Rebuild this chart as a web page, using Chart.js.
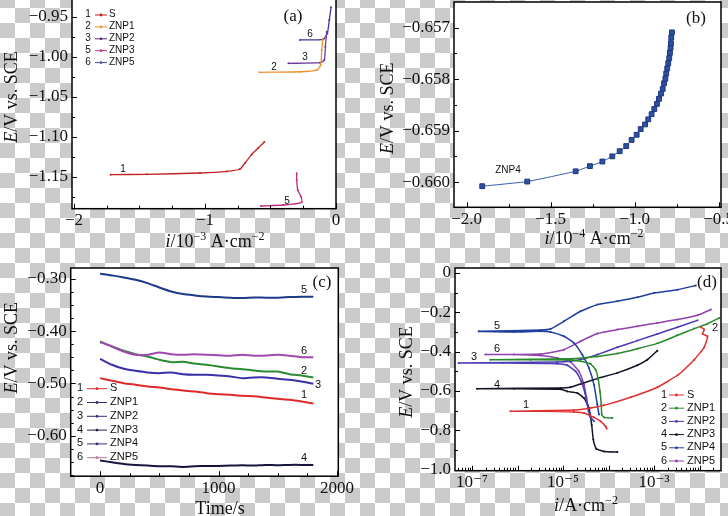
<!DOCTYPE html>
<html><head><meta charset="utf-8">
<script src="https://cdn.jsdelivr.net/npm/chart.js@4.4.1/dist/chart.umd.min.js"></script>
<style>
html,body{margin:0;padding:0;width:728px;height:516px;overflow:hidden;}
body{position:relative;background-color:#fff;
background-image:conic-gradient(#cbcbcb 25%,transparent 0 50%,#cbcbcb 0 75%,transparent 0);
background-size:30px 30px;background-position:0px 8px;}
.pn{position:absolute;}
canvas{display:block;}
</style></head><body>
<div class="pn" id="wa"><canvas id="ca"></canvas></div>
<div class="pn" id="wb"><canvas id="cb"></canvas></div>
<div class="pn" id="wc"><canvas id="cc"></canvas></div>
<div class="pn" id="wd"><canvas id="cd"></canvas></div>
<script>
// ---------------- Panel (a): i / 10^-3 A cm^-2  vs  E / V ----------------
const aS_i    = [-1.72,-1.445,-1.038,-0.834,-0.733,-0.695,-0.644,-0.593,-0.547];
const aS_E    = [-1.1475,-1.147,-1.1454,-1.1434,-1.1404,-1.133,-1.1225,-1.114,-1.1066];
const aZNP1_i = [-0.585,-0.275,-0.147,-0.117,-0.109,-0.101];
const aZNP1_E = [-1.0195,-1.0188,-1.0167,-1.0104,-0.9916,-0.9783];
const aZNP2_i = [-0.363,-0.122,-0.089,-0.081,-0.071];
const aZNP2_E = [-1.0083,-1.0075,-1.0041,-0.9875,-0.9688];
const aZNP3_i = [-0.573,-0.402,-0.262,-0.267,-0.292,-0.300,-0.300];
const aZNP3_E = [-1.1866,-1.1854,-1.182,-1.175,-1.1666,-1.154,-1.1458];
const aZNP5_i = [-0.275,-0.097,-0.066,-0.051,-0.038];
const aZNP5_E = [-0.9791,-0.9783,-0.9708,-0.9541,-0.9383];
const aXTicks = [-2,-1,0];            const aXLabels = ['\u22122','\u22121','0'];
const aYTicks = [-0.95,-1.00,-1.05,-1.10,-1.15];
const aYLabels = ['\u22120.95','\u22121.00','\u22121.05','\u22121.10','\u22121.15'];
const aXMinor = [-1.75,-1.5,-1.25,-0.75,-0.5,-0.25];
const aYMinor = [-0.975,-1.025,-1.075,-1.125,-1.175];

// ---------------- Panel (b): ZNP4, i / 10^-4 A cm^-2 vs E / V ----------------
const bZNP4_i = [-1.907,-1.639,-1.351,-1.266,-1.192,-1.133,-1.089,-1.050,-1.018,-0.988,-0.964,-0.938,-0.919,-0.899,-0.883,-0.867,-0.855,-0.843,-0.833,-0.825,-0.817,-0.812,-0.806,-0.800,-0.794,-0.790,-0.786,-0.784,-0.782,-0.778];
const bZNP4_E = [-0.66008,-0.65999,-0.65979,-0.65969,-0.65960,-0.65950,-0.65940,-0.65930,-0.65918,-0.65908,-0.65897,-0.65888,-0.65878,-0.65868,-0.65858,-0.65848,-0.65838,-0.65828,-0.65819,-0.65808,-0.65799,-0.65789,-0.65779,-0.65769,-0.65759,-0.65749,-0.65739,-0.65730,-0.65719,-0.65709];
const bXTicks = [-2.0,-1.5,-1.0,-0.5]; const bXLabels = ['\u22122.0','\u22121.5','\u22121.0','\u22120.5'];
const bYTicks = [-0.657,-0.658,-0.659,-0.660];
const bYLabels = ['\u22120.657','\u22120.658','\u22120.659','\u22120.660'];
const bXMinor = [-1.75,-1.25,-0.75];
const bYMinor = [-0.6575,-0.6585,-0.6595];

// ---------------- Panel (c): Time / s vs E / V ----------------
const cTime = [0,100,200,300,400,500,600,700,800,900,1000,1100,1200,1300,1400,1500,1600,1700,1800];
const cS    = [-0.4898,-0.4949,-0.4994,-0.5025,-0.5057,-0.5076,-0.5108,-0.5134,-0.5153,-0.5185,-0.5204,-0.5217,-0.5236,-0.5242,-0.5268,-0.5293,-0.5312,-0.5344,-0.5382];
const cZNP1 = [-0.4197,-0.4293,-0.4376,-0.444,-0.4484,-0.4548,-0.4592,-0.4586,-0.4618,-0.4643,-0.4675,-0.4707,-0.4726,-0.4752,-0.4771,-0.4771,-0.4822,-0.4847,-0.4885];
const cZNP2 = [-0.4529,-0.4643,-0.472,-0.4758,-0.479,-0.4803,-0.479,-0.4822,-0.4834,-0.4834,-0.4847,-0.4866,-0.4898,-0.4885,-0.4885,-0.4911,-0.493,-0.4962,-0.5006];
const cZNP3 = [-0.6471,-0.6503,-0.6535,-0.6554,-0.6567,-0.658,-0.658,-0.6592,-0.658,-0.6573,-0.6573,-0.6567,-0.6561,-0.6567,-0.6554,-0.6561,-0.6554,-0.6554,-0.6554];
const cZNP4 = [-0.2904,-0.2936,-0.2975,-0.3019,-0.3083,-0.3166,-0.3242,-0.3293,-0.3318,-0.3338,-0.335,-0.3363,-0.3369,-0.3357,-0.3363,-0.3363,-0.335,-0.3344,-0.3344];
const cZNP5 = [-0.421,-0.4293,-0.4389,-0.4452,-0.4452,-0.4408,-0.444,-0.4452,-0.444,-0.4452,-0.4459,-0.4471,-0.4452,-0.4471,-0.4465,-0.4452,-0.4471,-0.4497,-0.4497];
const cXTicks = [0,1000,2000]; const cXLabels = ['0','1000','2000'];
const cYTicks = [-0.30,-0.40,-0.50,-0.60]; const cYLabels = ['\u22120.30','\u22120.40','\u22120.50','\u22120.60'];
const cXMinor = [250,500,750,1250,1500,1750];
const cYMinor = [-0.325,-0.35,-0.375,-0.425,-0.45,-0.475,-0.525,-0.55,-0.575,-0.625,-0.65,-0.675];

// ---------------- Panel (d): Tafel, i / A cm^-2 (log) vs E / V ----------------
const dS_i    = [9.08e-5,8.63e-5,6.7e-5,4.78e-5,2.88e-5,1.73e-5,3.79e-6,6.98e-7,1.73e-5,4.04e-5,7.92e-5,3.06e-4,1.18e-3,3.27e-3,7.6e-3,1.26e-2,1.49e-2,1.16e-2,1.26e-2,1.07e-2];
const dS_E    = [-0.792,-0.78,-0.754,-0.734,-0.712,-0.707,-0.703,-0.703,-0.697,-0.686,-0.673,-0.632,-0.581,-0.52,-0.441,-0.378,-0.322,-0.31,-0.288,-0.276];
const dZNP1_i = [1.21e-4,7.92e-5,7.08e-5,6.92e-5,6.47e-5,5.85e-5,5.2e-5,4.04e-5,2.43e-5,1.46e-5,1.92e-6,2.54e-7,1.46e-5,5.65e-5,1.56e-4,4.3e-4,1.18e-3,3.27e-3,7.6e-3,1.49e-2,2.7e-2];
const dZNP1_E = [-0.737,-0.734,-0.72,-0.669,-0.602,-0.534,-0.492,-0.463,-0.449,-0.442,-0.441,-0.441,-0.436,-0.425,-0.41,-0.385,-0.358,-0.317,-0.283,-0.258,-0.229];
const dZNP2_i = [4.78e-5,3.9e-5,3.41e-5,3.03e-5,2.51e-5,1.88e-5,1.24e-5,7.45e-6,4.98e-7,5.08e-8,7.45e-6,1.46e-5,2.88e-5,5.65e-5,1.56e-4,4.3e-4,1.18e-3,3.27e-3,9e-3];
const dZNP2_E = [-0.754,-0.729,-0.669,-0.61,-0.551,-0.5,-0.469,-0.461,-0.458,-0.458,-0.453,-0.449,-0.436,-0.415,-0.378,-0.344,-0.31,-0.276,-0.241];
const dZNP3_i = [1.56e-4,7.92e-5,5.37e-5,4.62e-5,4.25e-5,3.71e-5,2.88e-5,2.05e-5,1.24e-5,8.8e-6,8.3e-7,1.29e-7,8.8e-6,1.46e-5,2.43e-5,5.65e-5,1.56e-4,4.3e-4,7.13e-4,1.18e-3];
const dZNP3_E = [-0.91,-0.907,-0.893,-0.847,-0.771,-0.686,-0.636,-0.61,-0.602,-0.591,-0.588,-0.588,-0.585,-0.581,-0.564,-0.537,-0.508,-0.469,-0.441,-0.395];
const dZNP4_i = [6.15e-5,5.65e-5,4.78e-5,3.71e-5,2.64e-5,1.73e-5,1.04e-5,5.3e-6,3.2e-6,8.3e-7,1.4e-7,3.2e-6,5.3e-6,1.04e-5,2.43e-5,5.65e-5,1.56e-4,4.3e-4,1e-3,3.27e-3,8.26e-3];
const dZNP4_E = [-0.72,-0.669,-0.568,-0.483,-0.415,-0.356,-0.322,-0.30,-0.297,-0.300,-0.297,-0.29,-0.285,-0.246,-0.195,-0.161,-0.144,-0.124,-0.102,-0.085,-0.064];
const dZNP5_i = [3.64e-5,3.29e-5,2.88e-5,2.23e-5,1.46e-5,7.45e-6,3.2e-6,8.3e-7,1.97e-7,3.2e-6,1.04e-5,2.43e-5,5.65e-5,1.56e-4,4.3e-4,1.18e-3,3.27e-3,9e-3,1.77e-2];
const dZNP5_E = [-0.703,-0.636,-0.568,-0.5,-0.453,-0.432,-0.42,-0.415,-0.415,-0.412,-0.39,-0.347,-0.308,-0.288,-0.271,-0.254,-0.237,-0.215,-0.186];
const dXTicks = [1e-7,1e-5,1e-3]; const dXLabels = ['10\u207B\u2077','10\u207B\u2075','10\u207B\u00B3'];
const dYTicks = [0,-0.2,-0.4,-0.6,-0.8,-1.0];
const dYLabels = ['0','\u22120.2','\u22120.4','\u22120.6','\u22120.8','\u22121.0'];
const dXMajor = [1e-7,1e-6,1e-5,1e-4,1e-3,1e-2];
const dXMinor = [];
[-8,-7,-6,-5,-4,-3,-2].forEach(e=>{for(let k=2;k<=9;k++) dXMinor.push(k*Math.pow(10,e));});
const dYMinor = [-0.1,-0.3,-0.5,-0.7,-0.9];

// ---------------- helpers ----------------
const SERIF = '"Liberation Serif","DejaVu Serif",serif';
const SANS = '"Liberation Sans","DejaVu Sans",Arial,sans-serif';
const pts = (xs, ys) => xs.map((x, i) => ({x: x, y: ys[i]}));

function drawRich(ctx, segs, cx, cy, size, rot) {
  ctx.save();
  ctx.translate(cx, cy);
  if (rot) ctx.rotate(-Math.PI / 2);
  const fontOf = s => (s.it ? 'italic ' : '') + (s.sup ? Math.round(size * 0.66) : size) + 'px ' + SERIF;
  let w = 0;
  segs.forEach(s => { ctx.font = fontOf(s); s.w = ctx.measureText(s.t).width; w += s.w; });
  let x = -w / 2;
  ctx.fillStyle = '#111'; ctx.textBaseline = 'alphabetic'; ctx.textAlign = 'left';
  segs.forEach(s => { ctx.font = fontOf(s); ctx.fillText(s.t, x, size * 0.34 - (s.sup ? size * 0.42 : 0)); x += s.w; });
  ctx.restore();
}

function decor(cfg) {
  return {
    id: 'decor_' + cfg.name,
    beforeDraw(chart) {
      const a = chart.chartArea, c = chart.ctx;
      c.save(); c.fillStyle = '#fff'; c.fillRect(a.left, a.top, a.right - a.left, a.bottom - a.top); c.restore();
    },
    afterDraw(chart) {
      const c = chart.ctx, a = chart.chartArea, X = chart.scales.x, Y = chart.scales.y;
      const ox = cfg.offset[0], oy = cfg.offset[1];
      c.save();
      c.strokeStyle = '#000'; c.lineWidth = 1;
      const inX = v => v >= Math.min(X.min, X.max) && v <= Math.max(X.min, X.max);
      const inY = v => v >= Math.min(Y.min, Y.max) && v <= Math.max(Y.min, Y.max);
      c.beginPath();
      const tx = (vals, len) => vals.filter(inX).forEach(v => { const p = Math.round(X.getPixelForValue(v)) + 0.5; c.moveTo(p, a.bottom); c.lineTo(p, a.bottom - len); });
      const ty = (vals, len) => vals.filter(inY).forEach(v => { const p = Math.round(Y.getPixelForValue(v)) + 0.5; c.moveTo(a.left, p); c.lineTo(a.left + len, p); });
      tx(cfg.xMajor, 5); tx(cfg.xMinor, 3); ty(cfg.yMajor, 5); ty(cfg.yMinor, 3);
      c.stroke();
      c.lineWidth = 1.5;
      c.strokeRect(a.left, a.top, a.right - a.left, a.bottom - a.top);
      cfg.titles.forEach(t => drawRich(c, t.segs, t.x - ox, t.y - oy, t.size, t.rot));
      cfg.texts.forEach(t => {
        c.font = t.font; c.fillStyle = t.color || '#111'; c.textAlign = 'center'; c.textBaseline = 'middle';
        c.fillText(t.t, t.x - ox, t.y - oy);
      });
      if (cfg.legend) {
        const L = cfg.legend;
        L.items.forEach((it, k) => {
          const y = L.y + k * L.dy - oy;
          c.font = L.font; c.fillStyle = '#111'; c.textBaseline = 'middle';
          c.textAlign = 'center'; c.fillText(it[0], L.nx - ox, y);
          c.strokeStyle = it[1]; c.lineWidth = 1;
          c.beginPath(); c.moveTo(L.l0 - ox, y + 0.5); c.lineTo(L.l1 - ox, y + 0.5); c.stroke();
          c.fillStyle = it[1]; c.beginPath(); c.arc((L.l0 + L.l1) / 2 - ox, y + 0.5, 1.4, 0, Math.PI * 2); c.fill();
          c.fillStyle = '#111'; c.textAlign = 'left'; c.fillText(it[2], L.tx - ox, y);
        });
      }
      c.restore();
    }
  };
}

// canvas extends 20px above and 30px right of the plot so that the library's own
// label padding never moves the plot area
function mkChart(id, wrap, cfg) {
  const P = cfg.plot;
  const off = [cfg.left, P[1] - 20];
  const W = P[2] + 30 - off[0], H = cfg.bottom - off[1];
  cfg.offset = off;
  const w = document.getElementById(wrap);
  w.style.left = off[0] + 'px'; w.style.top = off[1] + 'px';
  w.style.width = W + 'px'; w.style.height = H + 'px';
  const el = document.getElementById(id);
  el.width = Math.round(W); el.height = Math.round(H); el.style.width = Math.round(W) + 'px'; el.style.height = Math.round(H) + 'px';
  const yW = P[0] - off[0];
  const xH = off[1] + Math.round(H) - P[3];
  const tickFont = {family: SERIF, size: 17};
  return new Chart(el, {
    type: 'scatter',
    data: {datasets: cfg.datasets},
    options: {
      responsive: false, animation: false, events: [],
      layout: {autoPadding: false, padding: {top: 20, right: Math.round(W) - (P[2] - off[0]), left: 0, bottom: 0}},
      plugins: {legend: {display: false}, tooltip: {enabled: false}},
      scales: {
        x: {type: cfg.xType || 'linear', min: cfg.xMin, max: cfg.xMax, position: 'bottom',
            grid: {display: false, drawTicks: false}, border: {display: false},
            afterFit: s => { s.height = xH; },
            afterBuildTicks: s => { s.ticks = cfg.xTicks.map(v => ({value: v})); },
            ticks: {autoSkip: false, maxRotation: 0, minRotation: 0, padding: cfg.xPad, color: '#111', font: tickFont,
                    callback: (v, i) => cfg.xLabels[i]}},
        y: {type: 'linear', min: cfg.yMin, max: cfg.yMax, position: 'left',
            grid: {display: false, drawTicks: false}, border: {display: false},
            afterFit: s => { s.width = yW; },
            afterBuildTicks: s => { s.ticks = cfg.yTicks.map(v => ({value: v})); },
            ticks: {autoSkip: false, padding: cfg.yPad, color: '#111', font: tickFont,
                    callback: (v, i) => cfg.yLabels[i]}}
      }
    },
    plugins: [decor(cfg)]
  });
}

function ds(xs, ys, color, opt) {
  return Object.assign({data: pts(xs, ys), showLine: true, borderColor: color, backgroundColor: color,
    borderWidth: 1.3, pointRadius: 1, pointBorderWidth: 0, tension: 0.2}, opt || {});
}

const yTitle = [{t: 'E', it: true}, {t: '/V vs. SCE'}];

// ---------- (a) ----------
mkChart('ca', 'wa', {
  name: 'a', left: 0, bottom: 258, plot: [72, -1, 336, 208.7],
  xMin: -2.015, xMax: 0, yMin: -1.19, yMax: -0.9279,
  xTicks: aXTicks, xLabels: aXLabels, yTicks: aYTicks, yLabels: aYLabels,
  xMajor: aXTicks, xMinor: aXMinor, yMajor: aYTicks, yMinor: aYMinor, xPad: 2, yPad: 4,
  datasets: [
    ds(aS_i, aS_E, '#c42222'),
    ds(aZNP1_i, aZNP1_E, '#f0902e'),
    ds(aZNP2_i, aZNP2_E, '#6a3a9a'),
    ds(aZNP3_i, aZNP3_E, '#c0307a'),
    ds(aZNP5_i, aZNP5_E, '#3a3a9a')
  ],
  titles: [
    {segs: yTitle, x: 11, y: 97, size: 18, rot: true},
    {segs: [{t: 'i', it: true}, {t: '/10'}, {t: '\u22123', sup: true}, {t: ' A\u00B7cm'}, {t: '\u22122', sup: true}], x: 215, y: 241, size: 18}
  ],
  texts: [
    {t: '(a)', x: 293, y: 17, font: '17px ' + SERIF},
    {t: '1', x: 123, y: 169, font: '10px ' + SANS},
    {t: '2', x: 274, y: 67, font: '10px ' + SANS},
    {t: '3', x: 305, y: 57, font: '10px ' + SANS},
    {t: '5', x: 287, y: 201, font: '10px ' + SANS},
    {t: '6', x: 310, y: 34, font: '10px ' + SANS}
  ],
  legend: {nx: 88, l0: 95, l1: 107, tx: 109, y: 14.5, dy: 11.9, font: '10px ' + SANS,
    items: [['1', '#c42222', 'S'], ['2', '#f0902e', 'ZNP1'], ['3', '#5a2a7a', 'ZNP2'], ['5', '#c23a8a', 'ZNP3'], ['6', '#4a4aa8', 'ZNP5']]}
});

// ---------- (b) ----------
mkChart('cb', 'wb', {
  name: 'b', left: 364, bottom: 258, plot: [454, 1.7, 721, 207],
  xMin: -2.075, xMax: -0.486, yMin: -0.66049, yMax: -0.65650,
  xTicks: bXTicks, xLabels: bXLabels, yTicks: bYTicks, yLabels: bYLabels,
  xMajor: bXTicks, xMinor: bXMinor, yMajor: bYTicks, yMinor: bYMinor, xPad: 2, yPad: 4,
  datasets: [
    ds(bZNP4_i, bZNP4_E, '#2b4c9c', {pointStyle: 'rect', pointRadius: 3.4, pointBorderWidth: 1,
      pointBorderColor: '#1d3680', pointBackgroundColor: '#2e50a0', borderColor: '#3a5aaa', borderWidth: 1, tension: 0.1})
  ],
  titles: [
    {segs: yTitle, x: 387, y: 108, size: 18, rot: true},
    {segs: [{t: 'i', it: true}, {t: '/10'}, {t: '\u22124', sup: true}, {t: ' A\u00B7cm'}, {t: '\u22122', sup: true}], x: 594, y: 238, size: 18}
  ],
  texts: [
    {t: '(b)', x: 696, y: 18, font: '17px ' + SERIF},
    {t: 'ZNP4', x: 508, y: 170, font: '10px ' + SANS}
  ]
});

// ---------- (c) ----------
mkChart('cc', 'wc', {
  name: 'c', left: 0, bottom: 516, plot: [70.7, 268.3, 338.3, 476.5],
  xMin: -248, xMax: 2011, yMin: -0.677, yMax: -0.2795,
  xTicks: cXTicks, xLabels: cXLabels, yTicks: cYTicks, yLabels: cYLabels,
  xMajor: cXTicks, xMinor: cXMinor, yMajor: cYTicks, yMinor: cYMinor, xPad: 2, yPad: 4,
  datasets: [
    ds(cTime, cZNP4, '#1c3a8a', {borderWidth: 2, pointRadius: 0}),
    ds(cTime, cZNP5, '#a048b0', {borderWidth: 2, pointRadius: 0}),
    ds(cTime, cZNP1, '#2a8a30', {borderWidth: 2, pointRadius: 0}),
    ds(cTime, cZNP2, '#3a30a8', {borderWidth: 2, pointRadius: 0}),
    ds(cTime, cS, '#e02a2a', {borderWidth: 2, pointRadius: 0}),
    ds(cTime, cZNP3, '#151540', {borderWidth: 2, pointRadius: 0})
  ],
  titles: [
    {segs: yTitle, x: 11, y: 348, size: 18, rot: true},
    {segs: [{t: 'Time/s'}], x: 220, y: 508, size: 18}
  ],
  texts: [
    {t: '(c)', x: 322, y: 283, font: '17px ' + SERIF},
    {t: '5', x: 304, y: 290, font: '11px ' + SANS},
    {t: '6', x: 304, y: 351, font: '11px ' + SANS},
    {t: '2', x: 304, y: 371, font: '11px ' + SANS},
    {t: '3', x: 318, y: 385, font: '11px ' + SANS},
    {t: '1', x: 304, y: 395, font: '11px ' + SANS},
    {t: '4', x: 304, y: 458, font: '11px ' + SANS}
  ],
  legend: {nx: 80, l0: 87, l1: 107, tx: 110, y: 388.5, dy: 13.8, font: '11px ' + SANS,
    items: [['1', '#e02a2a', 'S'], ['2', '#303070', 'ZNP1'], ['3', '#303070', 'ZNP2'], ['4', '#202050', 'ZNP3'], ['5', '#303080', 'ZNP4'], ['6', '#c070a0', 'ZNP5']]}
});

// ---------- (d) ----------
mkChart('cd', 'wd', {
  name: 'd', left: 364, bottom: 516, plot: [455, 268, 721, 470.7],
  xType: 'logarithmic', xMin: Math.pow(10, -7.374), xMax: Math.pow(10, -1.53), yMin: -1.005, yMax: 0.025,
  xTicks: dXTicks, xLabels: dXLabels, yTicks: dYTicks, yLabels: dYLabels,
  xMajor: dXMajor, xMinor: dXMinor, yMajor: dYTicks, yMinor: dYMinor, xPad: 2, yPad: 4,
  datasets: [
    ds(dS_i, dS_E, '#e03030', {borderWidth: 1.5, tension: 0.15}),
    ds(dZNP1_i, dZNP1_E, '#2a8a2a', {borderWidth: 1.5, tension: 0.15}),
    ds(dZNP2_i, dZNP2_E, '#4a3ab8', {borderWidth: 1.5, tension: 0.15}),
    ds(dZNP3_i, dZNP3_E, '#141428', {borderWidth: 1.5, tension: 0.15}),
    ds(dZNP4_i, dZNP4_E, '#1f3f9f', {borderWidth: 1.5, tension: 0.15}),
    ds(dZNP5_i, dZNP5_E, '#9040b0', {borderWidth: 1.5, tension: 0.15})
  ],
  titles: [
    {segs: yTitle, x: 406, y: 372, size: 18, rot: true},
    {segs: [{t: 'i', it: true}, {t: '/A\u00B7cm'}, {t: '\u22122', sup: true}], x: 586, y: 505, size: 18}
  ],
  texts: [
    {t: '(d)', x: 707, y: 283, font: '17px ' + SERIF},
    {t: '5', x: 497, y: 326, font: '11px ' + SANS},
    {t: '6', x: 497, y: 349, font: '11px ' + SANS},
    {t: '3', x: 474, y: 357, font: '11px ' + SANS},
    {t: '4', x: 497, y: 385, font: '11px ' + SANS},
    {t: '1', x: 526, y: 405, font: '11px ' + SANS},
    {t: '2', x: 715, y: 328, font: '11px ' + SANS}
  ],
  legend: {nx: 664, l0: 669, l1: 684, tx: 687, y: 394.5, dy: 13.2, font: '11px ' + SANS,
    items: [['1', '#e03030', 'S'], ['2', '#2a8a2a', 'ZNP1'], ['3', '#4a3ab8', 'ZNP2'], ['4', '#141428', 'ZNP3'], ['5', '#1f3f9f', 'ZNP4'], ['6', '#9040b0', 'ZNP5']]}
});
</script>
</body></html>
